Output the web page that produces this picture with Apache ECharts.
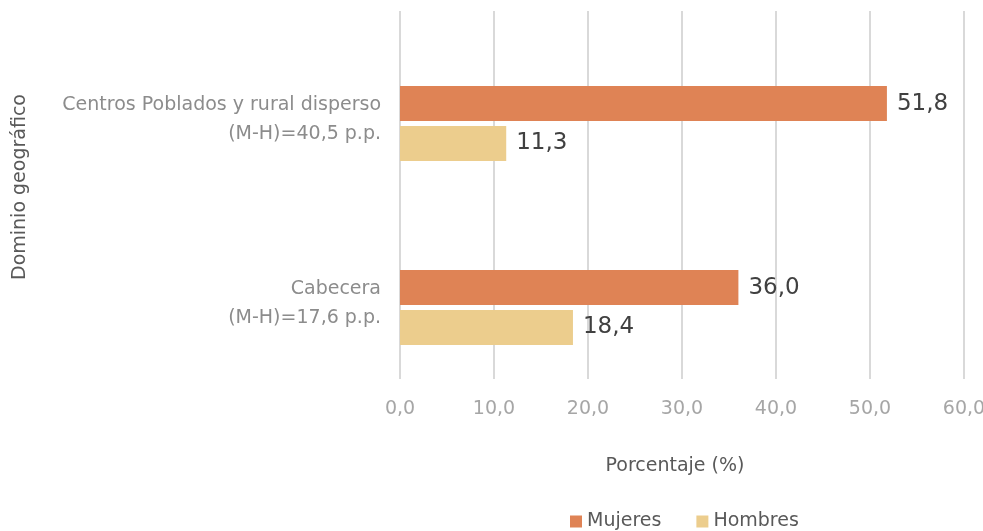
<!DOCTYPE html>
<html><head><meta charset="utf-8">
<script src="https://cdn.jsdelivr.net/npm/echarts@6/dist/echarts.min.js"></script>
<style>html,body{margin:0;padding:0;background:#fff}#c{width:983px;height:531px}</style>
</head><body><div id="c"></div>
<script>
var categories = ['Centros Poblados y rural disperso\n(M-H)=40,5 p.p.', 'Cabecera\n(M-H)=17,6 p.p.'];
var mujeres = [51.8, 36.0];
var hombres = [11.3, 18.4];
var seriesNames = ['Mujeres', 'Hombres'];
var xTicks = {min: 0, max: 60, interval: 10};

var FONT = 'DejaVu Sans';
var fmt = function (v) { return Number(v).toFixed(1).replace('.', ','); };
var chart = echarts.init(document.getElementById('c'));
chart.setOption({
  animation: false,
  textStyle: {fontFamily: FONT},
  grid: [
    {left: 400, right: 19, top: 11, bottom: 152, containLabel: false, outerBoundsMode: 'none'},
    {left: 400, right: 19, top: 31.5, bottom: 131.5, containLabel: false, outerBoundsMode: 'none'}
  ],
  legend: {
    data: seriesNames, bottom: -5, left: 565, itemWidth: 12, itemHeight: 12, itemGap: 35,
    icon: 'rect', textStyle: {fontFamily: FONT, fontSize: 19, color: '#595959'}
  },
  xAxis: [
    {gridIndex: 0, type: 'value', min: xTicks.min, max: xTicks.max, interval: xTicks.interval,
     axisLine: {show: false}, axisTick: {show: false},
     splitLine: {show: true, lineStyle: {color: '#d9d9d9', width: 2}},
     axisLabel: {formatter: fmt, color: '#a6a6a6', fontSize: 19, margin: 21, fontFamily: FONT},
     name: 'Porcentaje (%)', nameLocation: 'middle', nameGap: 78,
     nameTextStyle: {color: '#595959', fontSize: 19, fontFamily: FONT, padding: [0, 14, 0, 0]}},
    {gridIndex: 1, type: 'value', min: xTicks.min, max: xTicks.max, interval: xTicks.interval, show: false}
  ],
  yAxis: [
    {gridIndex: 0, type: 'category', data: categories, inverse: true, show: true,
     axisLine: {show: false}, axisTick: {show: false}, axisLabel: {show: false},
     name: 'Dominio geográfico', nameLocation: 'middle', nameGap: 370, nameRotate: 90,
     nameTextStyle: {color: '#595959', fontSize: 19, fontFamily: FONT, padding: [0, 0, 0, 16]}},
    {gridIndex: 1, type: 'category', data: categories, inverse: true,
     axisLine: {show: false}, axisTick: {show: false},
     axisLabel: {color: '#8c8c8c', fontSize: 19, lineHeight: 29, align: 'right', margin: 19,
       fontFamily: FONT,
       formatter: function (v) {
         return v.split('\n').map(function (s) { return '{a|' + s + '}'; }).join('\n') + '\n{s| }';
       },
       rich: {
         a: {color: '#8c8c8c', fontSize: 19, lineHeight: 29, fontFamily: FONT, align: 'right'},
         s: {fontSize: 4, lineHeight: 8}
       }}}
  ],
  series: [
    {name: seriesNames[0], type: 'bar', xAxisIndex: 1, yAxisIndex: 1, data: mujeres,
     barWidth: 35, barGap: '14%', itemStyle: {color: '#DF8355'},
     label: {show: true, position: 'right', distance: 10, formatter: function (p) { return fmt(p.value); },
       color: '#404040', fontSize: 23, fontFamily: FONT}},
    {name: seriesNames[1], type: 'bar', xAxisIndex: 1, yAxisIndex: 1, data: hombres,
     barWidth: 35, barGap: '14%', itemStyle: {color: '#ECCD8D'},
     label: {show: true, position: 'right', distance: 10, formatter: function (p) { return fmt(p.value); },
       color: '#404040', fontSize: 23, fontFamily: FONT}}
  ]
});
</script></body></html>
